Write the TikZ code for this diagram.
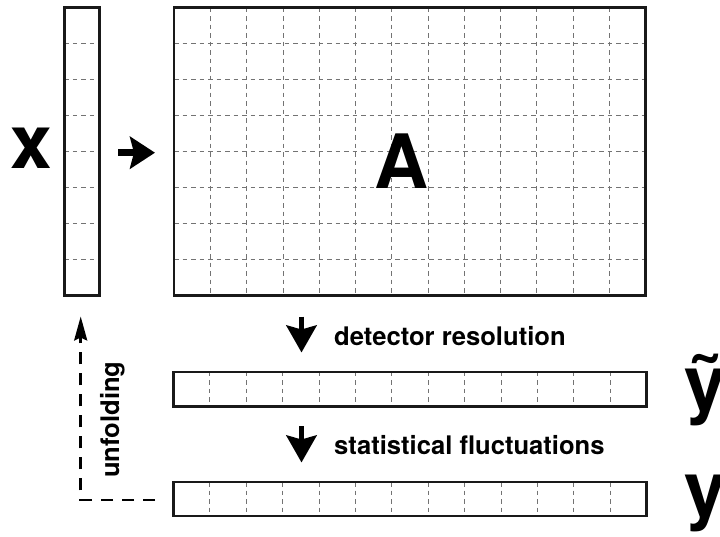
\documentclass[tikz,border=0pt]{standalone}
\usepackage{fontspec}
\setmainfont{TeX Gyre Heros}
\usetikzlibrary{calc,arrows.meta}
\tikzset{
  gridline/.style={draw=black!55, line width=0.9pt, dash pattern=on 4.5pt off 4pt},
  box/.style={draw=black!90, line width=2.5pt, rectangle, inner sep=0pt, fill=white},
  colgrid/.style={path picture={
    \foreach \i in {1,...,12}
      \draw[gridline] ($(path picture bounding box.north west)!\i/13!(path picture bounding box.north east)$) -- ($(path picture bounding box.south west)!\i/13!(path picture bounding box.south east)$);}},
  rowgrid/.style={path picture={
    \foreach \j in {1,...,7}
      \draw[gridline] ($(path picture bounding box.north west)!\j/8!(path picture bounding box.south west)$) -- ($(path picture bounding box.north east)!\j/8!(path picture bounding box.south east)$);}},
  bothgrid/.style={path picture={
    \foreach \i in {1,...,12}
      \draw[gridline] ($(path picture bounding box.north west)!\i/13!(path picture bounding box.north east)$) -- ($(path picture bounding box.south west)!\i/13!(path picture bounding box.south east)$);
    \foreach \j in {1,...,7}
      \draw[gridline] ($(path picture bounding box.north west)!\j/8!(path picture bounding box.south west)$) -- ($(path picture bounding box.north east)!\j/8!(path picture bounding box.south east)$);}},
  biglabel/.style={inner sep=0pt, font=\fontsize{75}{80}\selectfont\bfseries},
  smalllabel/.style={inner sep=0pt, font=\fontsize{25.6}{30}\selectfont\bfseries},
  fatarrow/.style={line width=6.5pt, -{Stealth[length=25pt,width=32pt,inset=4pt]}},
  downarrow/.style={line width=5.5pt, -{Stealth[length=27pt,width=30pt,inset=4pt]}},
  unfoldarrow/.style={line width=2.6pt, dash pattern=on 12pt off 9pt, -{Stealth[length=24pt,width=13pt,inset=3pt]}}
}
\begin{document}
\begin{tikzpicture}[x=1pt,y=-1pt]
\useasboundingbox (0,0) rectangle (720,536);
\fill[white] (0,0) rectangle (720,536);

% boxes
\node[box, rowgrid, minimum width=35pt, minimum height=288pt] (xv) at (81.75,151.65) {};
\node[box, bothgrid, minimum width=471.5pt, minimum height=288pt] (A) at (409.9,151.65) {};
\node[box, colgrid, minimum width=473pt, minimum height=34.5pt] (yt) at (410,389.2) {};
\node[box, colgrid, minimum width=473pt, minimum height=34pt] (yb) at (410,499.2) {};

% labels
\node[biglabel, anchor=base west] (xl) at (10,168) {x};
\node[biglabel, anchor=base] (Al) at (402,188) {A};
\node[biglabel, anchor=base west] (ytl) at (684,409) {\~{y}};
\node[biglabel, anchor=base west] (ybl) at (684,515) {y};

% arrow x -> A
\coordinate (a1s) at (118,152.7);
\coordinate (a1e) at (155,152.7);
\draw[fatarrow] (a1s) -- (a1e);

% detector resolution
\coordinate (d1s) at (301.5,316.5);
\coordinate (d1e) at (301.5,352.5);
\draw[downarrow] (d1s) -- (d1e);
\node[smalllabel, anchor=base west] (dr) at (334,345) {detector resolution};

% statistical fluctuations
\coordinate (d2s) at (301.5,426);
\coordinate (d2e) at (301.5,462.5);
\draw[downarrow] (d2s) -- (d2e);
\node[smalllabel, anchor=base west] (sf) at (334,454) {statistical fluctuations};

% unfolding
\coordinate (us) at (155,500);
\coordinate (uc) at (80.7,500);
\coordinate (ue) at (80.7,316.5);
\draw[unfoldarrow] (us) -- (uc) -- (ue);
\node[smalllabel, anchor=base west, rotate=90] (ul) at (119,478) {unfolding};
\end{tikzpicture}
\end{document}
